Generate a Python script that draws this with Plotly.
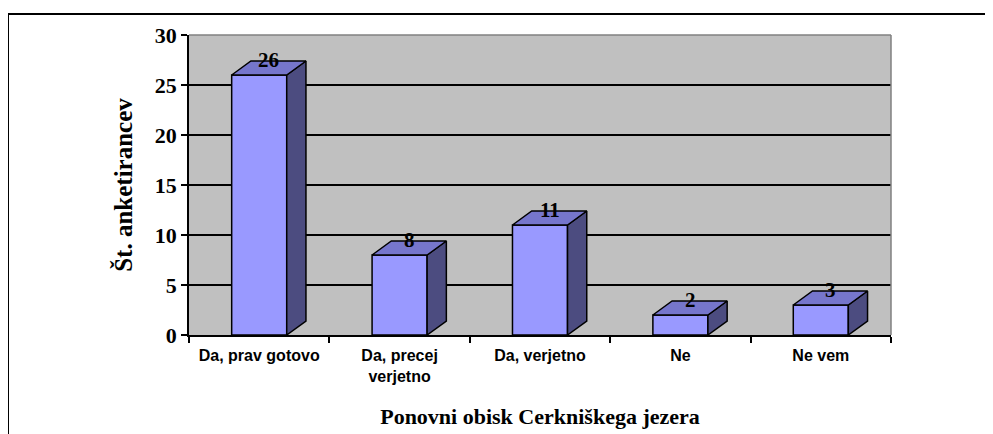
import plotly.graph_objects as go

categories = ["Da, prav gotovo", "Da, precej<br>verjetno", "Da, verjetno", "Ne", "Ne vem"]
values = [26, 8, 11, 2, 3]
y_ticks = [0, 5, 10, 15, 20, 25, 30]

FRONT = "#9999FF"
TOP = "#7676CC"
SIDE = "#4C4C80"
hw = 0.196   # half width of front face (category units)
dx = 0.137   # depth offset in x (category units)
dy = 1.4     # depth offset in y (value units)

fig = go.Figure()
for i, v in enumerate(values):
    x0, x1 = i - hw, i + hw
    fig.add_trace(go.Scatter(x=[x0, x1, x1, x0, x0], y=[0, 0, v, v, 0], fill="toself",
                             fillcolor=FRONT, mode="lines", line=dict(color="black", width=1.5),
                             hoverinfo="skip", showlegend=False))
    fig.add_trace(go.Scatter(x=[x1, x1 + dx, x1 + dx, x1, x1], y=[0, dy, v + dy, v, 0], fill="toself",
                             fillcolor=SIDE, mode="lines", line=dict(color="black", width=1.5),
                             hoverinfo="skip", showlegend=False))
    fig.add_trace(go.Scatter(x=[x0, x1, x1 + dx, x0 + dx, x0], y=[v, v, v + dy, v + dy, v], fill="toself",
                             fillcolor=TOP, mode="lines", line=dict(color="black", width=1.5),
                             hoverinfo="skip", showlegend=False))
    fig.add_annotation(x=i + dx / 2, y=v + dy, text=f"<b>{v}</b>", showarrow=False, yanchor="middle", yshift=1,
                       font=dict(family="Liberation Serif", size=21, color="black"))

fig.update_layout(
    width=993, height=434,
    margin=dict(l=181, r=110, t=27, b=107),
    paper_bgcolor="white", plot_bgcolor="#C0C0C0",
    xaxis=dict(range=[-0.5, 4.5], tickvals=list(range(len(categories))),
               ticktext=[f"<b>{c}</b>" for c in categories], automargin=False,
               ticks="", showgrid=False, zeroline=False, showline=True, linecolor="black", linewidth=1.5,
               tickfont=dict(family="Liberation Sans", size=16, color="black"), ticklabelstandoff=5,
               minor=dict(tick0=-0.5, dtick=1, ticks="outside", ticklen=6, tickwidth=1.5, tickcolor="black", showgrid=False),
               title=dict(text="<b>Ponovni obisk Cerkniškega jezera</b>", standoff=25,
                          font=dict(family="Liberation Serif", size=22, color="black")),
               fixedrange=True),
    yaxis=dict(range=[0, 30], tickvals=y_ticks, ticktext=[f"<b>{t}</b>" for t in y_ticks], automargin=False,
               ticks="outside", ticklen=6, tickwidth=1.5, tickcolor="black",
               showgrid=True, gridcolor="black", gridwidth=1.5, zeroline=False,
               showline=True, linecolor="black", linewidth=1.5,
               tickfont=dict(family="Liberation Serif", size=22, color="black"),
               title=dict(text="<b>Št. anketirancev</b>", standoff=15,
                          font=dict(family="Liberation Serif", size=25, color="black")),
               fixedrange=True),
    shapes=[
        dict(type="line", xref="paper", yref="paper", x0=0, x1=1, y0=1, y1=1, line=dict(color="#808080", width=1.5)),
        dict(type="line", xref="paper", yref="paper", x0=1, x1=1, y0=0, y1=1, line=dict(color="#808080", width=1.5)),
        dict(type="rect", xref="paper", yref="paper", x0=(8 - 189) / 702, x1=1.2, y0=-0.5, y1=(335 - 14) / 300,
             line=dict(color="black", width=2), layer="below"),
    ],
)
fig.update_xaxes(tickangle=0)

fig.write_html("out.html")
